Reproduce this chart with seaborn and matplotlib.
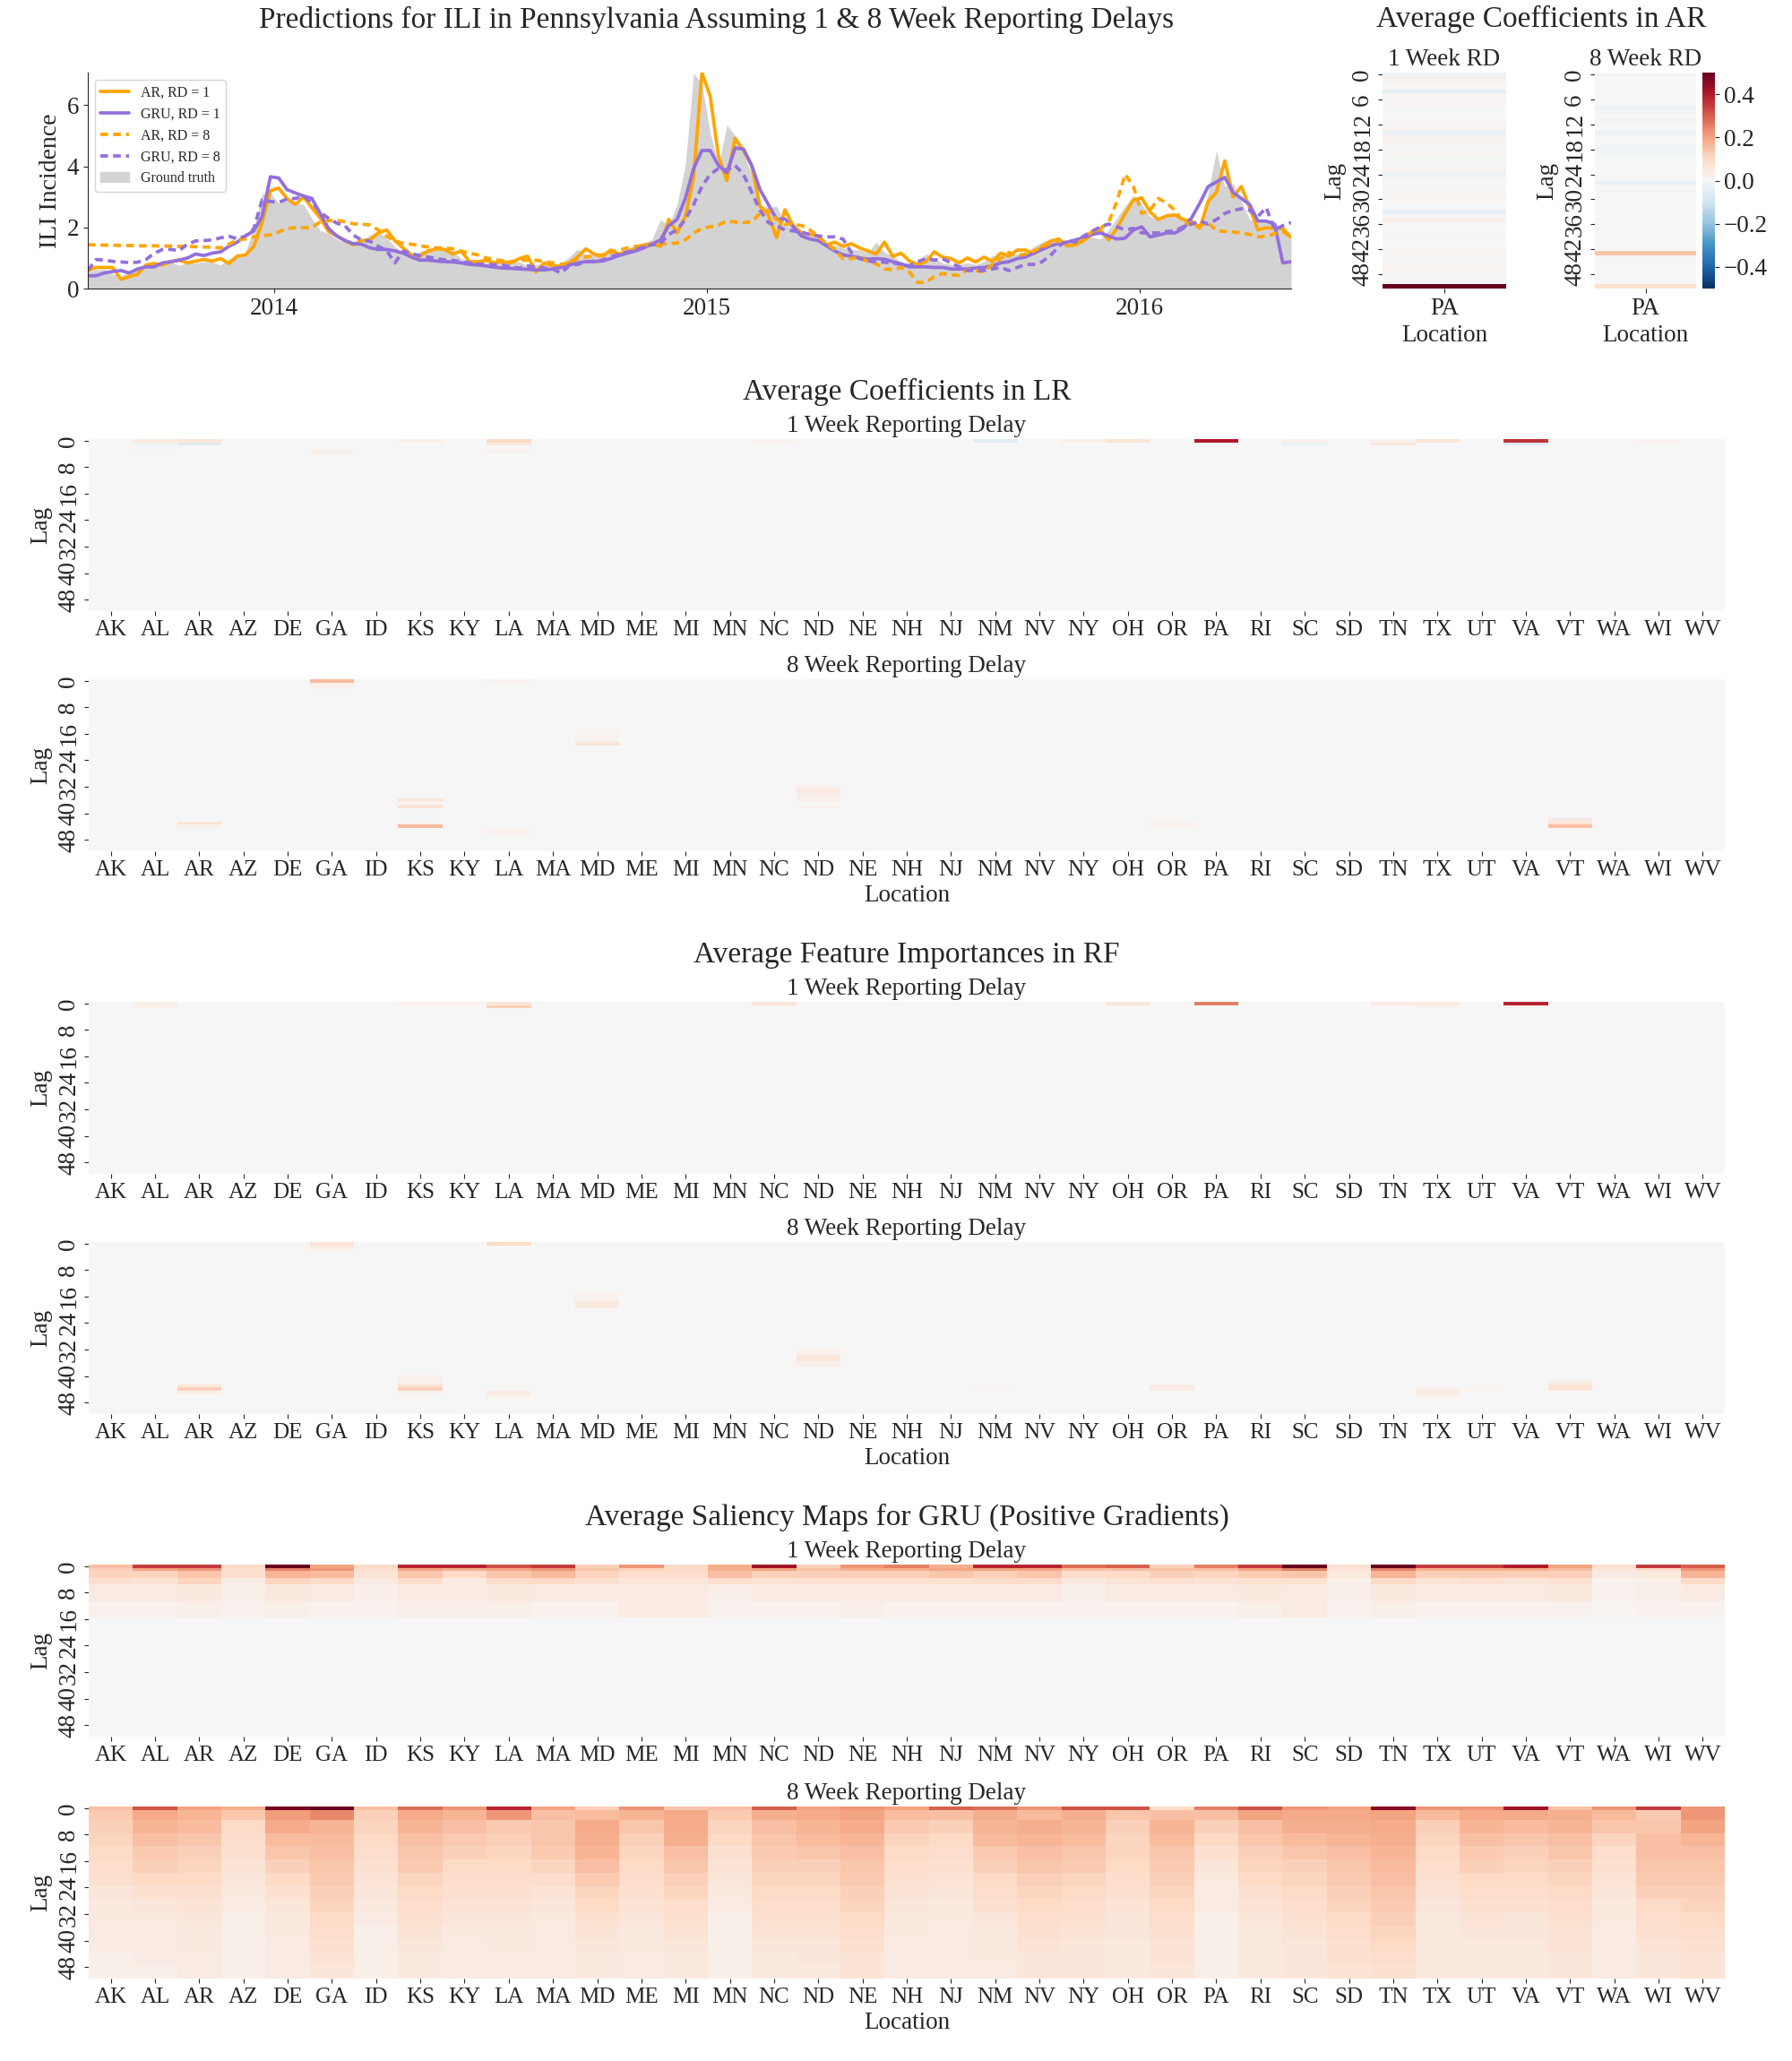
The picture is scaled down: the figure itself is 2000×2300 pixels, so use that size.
import numpy as np
import pandas as pd
import matplotlib
matplotlib.use('Agg')
import matplotlib.pyplot as plt
import matplotlib.dates as mdates
from matplotlib.lines import Line2D
from matplotlib.patches import Patch
import seaborn as sns

# weekly predictions for PA
WEEKS = pd.date_range('2013-07-28', periods=146, freq='7D')

GROUND_TRUTH = [
    0.55, 0.62, 0.62, 0.48, 0.40, 0.58, 0.72, 0.78, 0.78, 0.74,
    0.88, 0.76, 0.84, 0.84, 0.88, 0.88, 0.77, 0.98, 1.03, 1.20,
    1.95, 3.10, 3.12, 2.80, 2.88, 2.80, 2.75, 2.30, 1.90, 1.80,
    1.62, 1.52, 1.47, 1.58, 1.75, 1.90, 1.65, 1.38, 1.15, 1.02,
    1.22, 1.28, 1.30, 1.26, 1.22, 0.98, 0.87, 0.87, 0.84, 0.82,
    0.90, 0.88, 0.88, 0.74, 0.79, 0.79, 0.79, 0.79, 1.03, 1.28,
    1.13, 1.13, 1.18, 1.18, 1.18, 1.28, 1.38, 1.47, 1.62, 2.26,
    2.06, 2.75, 4.03, 7.05, 6.69, 5.11, 4.03, 5.36, 5.01, 4.42,
    3.74, 2.75, 2.65, 2.70, 2.11, 1.97, 1.77, 1.72, 1.67, 1.47,
    1.42, 1.33, 1.28, 1.26, 1.18, 1.52, 1.18, 1.08, 0.84, 0.84,
    0.88, 1.13, 0.98, 0.84, 0.79, 0.79, 0.84, 0.79, 0.88, 1.08,
    1.06, 1.18, 1.13, 1.18, 1.38, 1.52, 1.62, 1.57, 1.47, 1.57,
    1.67, 1.69, 1.62, 1.92, 2.31, 2.70, 3.05, 2.75, 2.36, 2.26,
    2.46, 2.46, 2.26, 2.16, 1.92, 3.15, 4.52, 3.34, 3.44, 2.85,
    2.26, 2.16, 2.26, 2.16, 1.97, 1.57]

AR_RD1 = [
    0.59, 0.69, 0.69, 0.69, 0.30, 0.39, 0.47, 0.77, 0.82, 0.77,
    0.88, 0.93, 0.84, 0.90, 0.95, 0.90, 0.98, 0.82, 1.06, 1.10,
    1.38, 2.16, 3.20, 3.29, 2.95, 2.75, 3.00, 2.65, 2.31, 1.87,
    1.72, 1.57, 1.43, 1.57, 1.59, 1.82, 1.92, 1.57, 1.33, 1.10,
    1.06, 1.23, 1.30, 1.28, 1.13, 1.23, 0.88, 0.88, 0.92, 0.84,
    0.88, 0.84, 0.98, 1.06, 0.54, 0.84, 0.74, 0.74, 0.84, 1.03,
    1.30, 1.13, 1.06, 1.26, 1.13, 1.20, 1.33, 1.43, 1.47, 1.38,
    2.26, 1.82, 2.36, 3.64, 7.07, 6.29, 4.33, 3.54, 4.92, 4.52,
    4.03, 2.70, 2.41, 1.67, 2.58, 2.06, 1.82, 1.77, 1.72, 1.43,
    1.52, 1.38, 1.47, 1.33, 1.23, 1.13, 1.52, 1.05, 1.16, 0.90,
    0.79, 0.88, 1.20, 1.03, 0.98, 0.84, 1.00, 0.87, 1.03, 0.88,
    1.16, 1.06, 1.26, 1.26, 1.13, 1.38, 1.55, 1.62, 1.40, 1.43,
    1.57, 1.77, 1.92, 1.59, 1.97, 2.46, 2.90, 2.97, 2.51, 2.26,
    2.38, 2.41, 2.26, 2.21, 1.97, 2.85, 3.15, 4.18, 3.00, 3.34,
    2.65, 1.92, 1.99, 1.97, 1.97, 1.67]

GRU_RD1 = [
    0.42, 0.42, 0.51, 0.56, 0.59, 0.51, 0.64, 0.71, 0.71, 0.84,
    0.88, 0.93, 1.00, 1.13, 1.08, 1.16, 1.20, 1.38, 1.52, 1.72,
    1.89, 2.36, 3.66, 3.62, 3.24, 3.13, 3.03, 2.95, 2.46, 1.97,
    1.72, 1.57, 1.47, 1.45, 1.33, 1.28, 1.28, 1.23, 1.16, 1.03,
    0.93, 0.93, 0.90, 0.88, 0.87, 0.84, 0.79, 0.77, 0.74, 0.70,
    0.67, 0.66, 0.64, 0.63, 0.61, 0.61, 0.64, 0.69, 0.77, 0.84,
    0.88, 0.88, 0.90, 0.98, 1.08, 1.16, 1.23, 1.33, 1.46, 1.59,
    2.06, 2.26, 2.95, 3.93, 4.52, 4.52, 4.03, 3.79, 4.60, 4.57,
    4.03, 3.24, 2.75, 2.26, 2.28, 2.02, 1.72, 1.62, 1.57, 1.40,
    1.23, 1.10, 1.06, 1.00, 0.96, 0.98, 0.96, 0.88, 0.81, 0.71,
    0.71, 0.71, 0.69, 0.69, 0.64, 0.64, 0.64, 0.67, 0.69, 0.74,
    0.84, 0.88, 0.98, 1.03, 1.16, 1.28, 1.40, 1.47, 1.52, 1.59,
    1.67, 1.77, 1.82, 1.72, 1.62, 1.65, 1.92, 2.02, 1.69, 1.75,
    1.82, 1.82, 1.97, 2.31, 2.80, 3.34, 3.49, 3.64, 3.15, 2.95,
    2.75, 2.21, 2.21, 2.11, 0.84, 0.88]

AR_RD8 = [
    1.43, 1.43, 1.42, 1.42, 1.41, 1.41, 1.40, 1.40, 1.40, 1.39,
    1.39, 1.38, 1.38, 1.37, 1.36, 1.35, 1.33, 1.45, 1.60, 1.62,
    1.69, 1.72, 1.76, 1.85, 1.97, 1.99, 1.99, 2.00, 2.18, 2.22,
    2.24, 2.18, 2.12, 2.11, 2.08, 1.92, 1.72, 1.55, 1.48, 1.45,
    1.40, 1.36, 1.33, 1.33, 1.30, 1.22, 1.16, 1.10, 1.00, 0.95,
    0.91, 0.88, 0.93, 0.93, 0.93, 0.88, 0.84, 0.79, 0.84, 0.98,
    1.03, 1.06, 1.10, 1.18, 1.26, 1.33, 1.38, 1.40, 1.43, 1.47,
    1.47, 1.49, 1.59, 1.82, 1.97, 2.02, 2.08, 2.21, 2.18, 2.16,
    2.18, 2.46, 2.56, 2.26, 2.11, 2.11, 2.06, 1.92, 1.72, 1.47,
    1.28, 0.98, 0.98, 1.03, 0.88, 0.81, 0.64, 0.62, 0.69, 0.54,
    0.20, 0.20, 0.39, 0.49, 0.44, 0.44, 0.61, 0.59, 0.54, 0.79,
    0.98, 1.18, 1.08, 1.13, 1.23, 1.36, 1.47, 1.57, 1.40, 1.43,
    1.62, 1.87, 1.97, 2.16, 2.85, 3.74, 3.34, 2.46, 2.56, 2.95,
    2.80, 2.56, 2.16, 2.11, 2.06, 2.16, 1.89, 1.87, 1.85, 1.82,
    1.77, 1.69, 1.72, 1.79, 1.87, 1.67]

GRU_RD8 = [
    0.59, 0.95, 0.93, 0.89, 0.87, 0.85, 0.86, 0.95, 1.15, 1.28,
    1.28, 1.24, 1.45, 1.56, 1.57, 1.59, 1.66, 1.71, 1.63, 1.72,
    1.95, 2.90, 2.85, 2.82, 2.93, 2.95, 3.02, 2.82, 2.50, 2.30,
    2.14, 2.05, 1.75, 1.58, 1.55, 1.38, 1.25, 0.84, 1.22, 1.15,
    1.07, 1.03, 0.98, 0.94, 0.92, 0.88, 0.84, 0.80, 0.79, 0.78,
    0.77, 0.71, 0.67, 0.74, 0.71, 0.67, 0.64, 0.51, 0.74, 0.79,
    0.87, 0.90, 0.93, 1.03, 1.13, 1.20, 1.26, 1.38, 1.43, 1.47,
    1.77, 1.92, 2.26, 2.75, 3.34, 3.74, 3.93, 3.88, 4.03, 3.74,
    3.15, 2.56, 2.16, 2.06, 1.92, 1.89, 1.85, 1.77, 1.72, 1.69,
    1.69, 1.62, 1.18, 0.98, 0.90, 0.88, 0.86, 0.84, 0.79, 0.74,
    0.88, 0.98, 0.93, 0.98, 0.84, 0.71, 0.59, 0.59, 0.59, 0.64,
    0.69, 0.59, 0.69, 0.79, 0.79, 0.88, 1.08, 1.38, 1.57, 1.52,
    1.72, 1.87, 2.02, 2.11, 2.02, 1.92, 1.97, 1.82, 1.82, 1.82,
    1.87, 1.89, 2.02, 2.11, 2.21, 2.11, 2.26, 2.46, 2.56, 2.61,
    2.56, 2.36, 2.65, 1.92, 2.06, 2.16]

# heatmap axes
LOCATIONS = ['AK', 'AL', 'AR', 'AZ', 'DE', 'GA', 'ID', 'KS', 'KY', 'LA', 'MA', 'MD', 'ME',
             'MI', 'MN', 'NC', 'ND', 'NE', 'NH', 'NJ', 'NM', 'NV', 'NY', 'OH', 'OR', 'PA',
             'RI', 'SC', 'SD', 'TN', 'TX', 'UT', 'VA', 'VT', 'WA', 'WI', 'WV']
LAGS = list(range(52))

# AR coefficients for PA, lag 0..51
AR_COEF_RD1 = [
    -0.02, 0.02, 0.015, 0.0, -0.05, 0.01, 0.005, 0.01, 0.0, -0.005,
    0.0, 0.005, 0.0, 0.015, -0.04, 0.02, 0.015, 0.0, -0.01, 0.01,
    0.0, -0.01, 0.005, 0.015, -0.03, 0.01, -0.005, 0.0, -0.01, 0.005,
    0.01, 0.0, -0.005, -0.04, 0.0, 0.025, 0.0, -0.005, 0.0, 0.005,
    0.0, 0.0, 0.01, 0.005, -0.01, 0.0, 0.01, 0.015, -0.01, 0.005,
    0.0, 0.50]
AR_COEF_RD8 = [
    0.0, 0.0, 0.0, 0.0, 0.0, 0.0, 0.0, 0.0, -0.03, -0.015,
    0.0, -0.02, 0.0, -0.005, -0.035, 0.0, 0.0, -0.015, -0.02, -0.015,
    0.0, 0.0, 0.0, 0.0, 0.0, 0.0, -0.04, 0.0, 0.0, 0.0,
    0.0, 0.0, 0.0, 0.0, 0.0, 0.0, 0.0, 0.0, 0.0, 0.0,
    0.0, 0.0, 0.0, 0.14, 0.01, 0.0, 0.0, 0.0, 0.0, 0.0,
    0.0, 0.08]

# LR / RF: only non-zero cells (location, lag, value)
LR_RD1 = [('AL', 0, 0.05), ('AL', 1, -0.02), ('AL', 2, -0.01), ('AL', 3, -0.01),
          ('AR', 0, 0.06), ('AR', 1, -0.06), ('GA', 3, 0.02), ('GA', 4, 0.02),
          ('KS', 0, 0.03), ('LA', 0, 0.10), ('LA', 1, 0.06), ('LA', 3, 0.02),
          ('NC', 0, 0.02), ('NM', 0, -0.06), ('NY', 0, 0.03), ('OH', 0, 0.07),
          ('PA', 0, 0.40), ('PA', 1, -0.02), ('SC', 0, 0.03), ('SC', 1, -0.03),
          ('TN', 0, 0.02), ('TN', 1, 0.06), ('TX', 0, 0.06), ('VA', 0, 0.36),
          ('VA', 1, -0.06), ('WI', 0, 0.02)]
LR_RD8 = [('GA', 0, 0.16), ('GA', 1, 0.03), ('GA', 2, 0.02), ('LA', 0, 0.02),
          ('MD', 15, 0.01), ('MD', 16, 0.015), ('MD', 17, 0.015), ('MD', 18, 0.02), ('MD', 19, 0.07),
          ('ND', 32, 0.02), ('ND', 33, 0.05), ('ND', 34, 0.04), ('ND', 35, 0.03), ('ND', 36, 0.02),
          ('ND', 38, 0.02), ('KS', 36, 0.06), ('KS', 38, 0.07), ('KS', 43, 0.02), ('KS', 44, 0.16),
          ('AR', 43, 0.07), ('AR', 44, 0.03), ('LA', 45, 0.02), ('LA', 46, 0.02),
          ('OR', 43, 0.02), ('OR', 44, 0.02), ('VT', 42, 0.04), ('VT', 43, 0.07), ('VT', 44, 0.15)]
RF_RD1 = [('AL', 0, 0.03), ('AL', 1, 0.03), ('LA', 0, 0.06), ('LA', 1, 0.12), ('NC', 0, 0.07),
          ('OH', 0, 0.06), ('PA', 0, 0.25), ('TN', 0, 0.04), ('TX', 0, 0.04), ('TX', 1, 0.02),
          ('VA', 0, 0.38), ('VA', 1, 0.02), ('KS', 0, 0.02), ('KY', 0, 0.02)]
RF_RD8 = [('GA', 0, 0.07), ('GA', 1, 0.04), ('GA', 2, 0.02), ('LA', 0, 0.10),
          ('MD', 15, 0.02), ('MD', 16, 0.02), ('MD', 17, 0.02), ('MD', 18, 0.05), ('MD', 19, 0.05),
          ('ND', 32, 0.02), ('ND', 33, 0.02), ('ND', 34, 0.06), ('ND', 35, 0.06), ('ND', 36, 0.03),
          ('ND', 37, 0.03), ('AR', 43, 0.06), ('AR', 44, 0.12), ('AR', 45, 0.03),
          ('KS', 40, 0.02), ('KS', 41, 0.02), ('KS', 42, 0.03), ('KS', 43, 0.08), ('KS', 44, 0.12),
          ('KS', 45, 0.02), ('LA', 45, 0.04), ('LA', 46, 0.03), ('NM', 44, 0.01),
          ('OR', 43, 0.04), ('OR', 44, 0.04), ('TX', 44, 0.03), ('TX', 45, 0.04), ('TX', 46, 0.02),
          ('UT', 44, 0.015), ('VT', 42, 0.04), ('VT', 43, 0.07), ('VT', 44, 0.07)]

# GRU saliency, 1 week delay: one value per location for each lag group
GRU1_LAG0 = [0.15, 0.35, 0.35, 0.10, 0.50, 0.20, 0.10, 0.38, 0.38, 0.32, 0.35, 0.12, 0.22,
             0.10, 0.18, 0.42, 0.12, 0.22, 0.25, 0.18, 0.38, 0.38, 0.28, 0.30, 0.12, 0.25,
             0.35, 0.50, 0.08, 0.50, 0.35, 0.35, 0.40, 0.20, 0.08, 0.35, 0.30]
GRU1_LAG1 = [0.12, 0.20, 0.22, 0.08, 0.25, 0.22, 0.08, 0.20, 0.18, 0.20, 0.22, 0.14, 0.12,
             0.10, 0.18, 0.20, 0.15, 0.18, 0.18, 0.20, 0.20, 0.20, 0.15, 0.15, 0.15, 0.15,
             0.20, 0.25, 0.06, 0.25, 0.18, 0.18, 0.18, 0.15, 0.06, 0.10, 0.22]
GRU1_LAG2_3 = [0.11, 0.11, 0.14, 0.08, 0.17, 0.16, 0.07, 0.14, 0.10, 0.14, 0.16, 0.11, 0.09,
               0.09, 0.15, 0.12, 0.12, 0.12, 0.12, 0.14, 0.12, 0.14, 0.09, 0.10, 0.12, 0.11,
               0.13, 0.14, 0.05, 0.17, 0.12, 0.12, 0.12, 0.12, 0.04, 0.05, 0.17]
GRU1_LAG4_5 = [0.08, 0.07, 0.11, 0.04, 0.11, 0.10, 0.04, 0.09, 0.04, 0.09, 0.10, 0.08, 0.06,
               0.06, 0.09, 0.07, 0.08, 0.08, 0.08, 0.08, 0.09, 0.09, 0.05, 0.07, 0.08, 0.07,
               0.08, 0.08, 0.03, 0.10, 0.07, 0.08, 0.06, 0.08, 0.02, 0.03, 0.10]
GRU1_LAG6_10 = [0.04, 0.04, 0.05, 0.03, 0.05, 0.04, 0.03, 0.04, 0.04, 0.05, 0.04, 0.04, 0.04,
                0.04, 0.03, 0.04, 0.04, 0.04, 0.04, 0.04, 0.04, 0.04, 0.03, 0.04, 0.04, 0.04,
                0.05, 0.04, 0.03, 0.05, 0.04, 0.04, 0.04, 0.05, 0.02, 0.03, 0.04]
GRU1_LAG11_15 = [0.02, 0.02, 0.03, 0.02, 0.03, 0.02, 0.02, 0.03, 0.03, 0.03, 0.02, 0.02, 0.04,
                 0.04, 0.02, 0.02, 0.02, 0.03, 0.02, 0.02, 0.02, 0.02, 0.02, 0.02, 0.02, 0.02,
                 0.03, 0.04, 0.02, 0.03, 0.02, 0.02, 0.02, 0.02, 0.01, 0.02, 0.02]

# GRU saliency, 8 week delay: lag 0, then 13 groups of 4 lags (lags 1-3 share the first group)
GRU8_LAG0 = [0.15, 0.32, 0.20, 0.18, 0.48, 0.50, 0.15, 0.28, 0.22, 0.38, 0.20, 0.12, 0.22,
             0.14, 0.15, 0.30, 0.20, 0.22, 0.20, 0.30, 0.28, 0.22, 0.32, 0.32, 0.10, 0.25,
             0.32, 0.22, 0.20, 0.45, 0.22, 0.22, 0.42, 0.15, 0.22, 0.35, 0.22]
GRU8_GROUPS = [
    [0.13, 0.12, 0.11, 0.10, 0.09, 0.08, 0.06, 0.05, 0.05, 0.04, 0.04, 0.03, 0.03],  # AK
    [0.19, 0.17, 0.15, 0.13, 0.12, 0.10, 0.08, 0.06, 0.05, 0.04, 0.04, 0.04, 0.03],  # AL
    [0.17, 0.16, 0.14, 0.12, 0.11, 0.10, 0.08, 0.07, 0.06, 0.05, 0.05, 0.04, 0.04],  # AR
    [0.14, 0.10, 0.09, 0.08, 0.07, 0.06, 0.05, 0.04, 0.03, 0.03, 0.03, 0.03, 0.03],  # AZ
    [0.21, 0.19, 0.16, 0.14, 0.12, 0.10, 0.08, 0.06, 0.05, 0.05, 0.04, 0.04, 0.04],  # DE
    [0.24, 0.17, 0.16, 0.15, 0.14, 0.13, 0.12, 0.11, 0.10, 0.09, 0.08, 0.07, 0.06],  # GA
    [0.12, 0.11, 0.10, 0.09, 0.08, 0.07, 0.06, 0.05, 0.04, 0.03, 0.03, 0.03, 0.03],  # ID
    [0.19, 0.17, 0.15, 0.14, 0.13, 0.11, 0.10, 0.09, 0.08, 0.07, 0.06, 0.05, 0.05],  # KS
    [0.17, 0.15, 0.13, 0.12, 0.10, 0.09, 0.08, 0.07, 0.06, 0.05, 0.04, 0.04, 0.04],  # KY
    [0.22, 0.13, 0.12, 0.11, 0.10, 0.09, 0.08, 0.07, 0.06, 0.05, 0.05, 0.04, 0.04],  # LA
    [0.15, 0.14, 0.14, 0.13, 0.11, 0.09, 0.07, 0.06, 0.05, 0.04, 0.04, 0.04, 0.04],  # MA
    [0.16, 0.19, 0.18, 0.17, 0.15, 0.13, 0.11, 0.10, 0.08, 0.07, 0.06, 0.05, 0.05],  # MD
    [0.17, 0.14, 0.12, 0.11, 0.10, 0.09, 0.08, 0.07, 0.06, 0.05, 0.05, 0.04, 0.04],  # ME
    [0.19, 0.19, 0.18, 0.15, 0.14, 0.12, 0.11, 0.09, 0.08, 0.07, 0.06, 0.05, 0.05],  # MI
    [0.13, 0.11, 0.10, 0.08, 0.07, 0.06, 0.05, 0.04, 0.03, 0.03, 0.03, 0.03, 0.03],  # MN
    [0.18, 0.15, 0.14, 0.13, 0.12, 0.11, 0.10, 0.09, 0.08, 0.07, 0.06, 0.05, 0.05],  # NC
    [0.19, 0.17, 0.16, 0.14, 0.12, 0.11, 0.10, 0.09, 0.08, 0.07, 0.06, 0.06, 0.05],  # ND
    [0.20, 0.19, 0.17, 0.15, 0.14, 0.13, 0.12, 0.11, 0.10, 0.09, 0.08, 0.07, 0.07],  # NE
    [0.16, 0.13, 0.11, 0.10, 0.09, 0.08, 0.07, 0.06, 0.05, 0.05, 0.04, 0.04, 0.04],  # NH
    [0.15, 0.12, 0.10, 0.09, 0.08, 0.07, 0.06, 0.05, 0.05, 0.04, 0.04, 0.04, 0.04],  # NJ
    [0.18, 0.17, 0.16, 0.13, 0.12, 0.10, 0.09, 0.08, 0.06, 0.05, 0.05, 0.05, 0.04],  # NM
    [0.16, 0.18, 0.17, 0.15, 0.14, 0.12, 0.11, 0.10, 0.09, 0.08, 0.07, 0.06, 0.06],  # NV
    [0.18, 0.17, 0.16, 0.14, 0.13, 0.11, 0.10, 0.09, 0.08, 0.07, 0.06, 0.06, 0.06],  # NY
    [0.14, 0.12, 0.11, 0.11, 0.10, 0.09, 0.08, 0.07, 0.06, 0.06, 0.05, 0.05, 0.05],  # OH
    [0.15, 0.17, 0.16, 0.14, 0.13, 0.12, 0.11, 0.10, 0.09, 0.08, 0.07, 0.07, 0.06],  # OR
    [0.15, 0.12, 0.10, 0.08, 0.06, 0.05, 0.04, 0.04, 0.03, 0.03, 0.03, 0.03, 0.03],  # PA
    [0.20, 0.15, 0.14, 0.12, 0.11, 0.10, 0.08, 0.07, 0.06, 0.05, 0.05, 0.05, 0.05],  # RI
    [0.19, 0.18, 0.16, 0.14, 0.12, 0.11, 0.10, 0.09, 0.08, 0.07, 0.06, 0.06, 0.06],  # SC
    [0.19, 0.18, 0.17, 0.15, 0.14, 0.13, 0.12, 0.11, 0.10, 0.09, 0.08, 0.08, 0.07],  # SD
    [0.20, 0.19, 0.18, 0.17, 0.16, 0.15, 0.14, 0.13, 0.12, 0.11, 0.10, 0.09, 0.08],  # TN
    [0.16, 0.12, 0.11, 0.10, 0.09, 0.08, 0.07, 0.06, 0.05, 0.05, 0.05, 0.05, 0.05],  # TX
    [0.19, 0.17, 0.15, 0.13, 0.12, 0.10, 0.09, 0.08, 0.07, 0.06, 0.05, 0.05, 0.05],  # UT
    [0.19, 0.16, 0.14, 0.12, 0.11, 0.10, 0.09, 0.08, 0.06, 0.06, 0.05, 0.05, 0.05],  # VA
    [0.18, 0.17, 0.15, 0.14, 0.12, 0.11, 0.10, 0.09, 0.08, 0.07, 0.07, 0.06, 0.06],  # VT
    [0.16, 0.14, 0.11, 0.09, 0.08, 0.07, 0.06, 0.05, 0.05, 0.04, 0.04, 0.04, 0.04],  # WA
    [0.13, 0.14, 0.15, 0.15, 0.14, 0.13, 0.12, 0.10, 0.09, 0.08, 0.07, 0.06, 0.06],  # WI
    [0.22, 0.20, 0.17, 0.15, 0.14, 0.13, 0.12, 0.11, 0.10, 0.09, 0.08, 0.07, 0.07],  # WV
]

sns.set_style('ticks')
plt.rcParams['font.family'] = ['Liberation Serif', 'DejaVu Serif']
plt.rcParams['font.size'] = 19.5
plt.rcParams['axes.unicode_minus'] = True

W, H = 2000, 2300
fig = plt.figure(figsize=(20, 23), dpi=100)

HEAT_LEFT, HEAT_WIDTH = 99, 1826
HEAT_MID = HEAT_LEFT + HEAT_WIDTH / 2


def box(left, top, width, height):
    # pixel box -> figure fraction
    return [left / W, 1 - (top + height) / H, width / W, height / H]


def sparse_frame(entries):
    mat = np.zeros((len(LAGS), len(LOCATIONS)))
    for loc, lag, val in entries:
        mat[lag, LOCATIONS.index(loc)] = val
    return pd.DataFrame(mat, index=LAGS, columns=LOCATIONS)


def gru1_frame():
    mat = np.zeros((len(LAGS), len(LOCATIONS)))
    groups = [(0, 1, GRU1_LAG0), (1, 2, GRU1_LAG1), (2, 4, GRU1_LAG2_3),
              (4, 6, GRU1_LAG4_5), (6, 11, GRU1_LAG6_10), (11, 16, GRU1_LAG11_15)]
    for start, stop, vals in groups:
        mat[start:stop, :] = vals
    return pd.DataFrame(mat, index=LAGS, columns=LOCATIONS)


def gru8_frame():
    mat = np.repeat(np.array(GRU8_GROUPS).T, 4, axis=0)
    mat[0, :] = GRU8_LAG0
    return pd.DataFrame(mat, index=LAGS, columns=LOCATIONS)


def draw_heat(ax, df, title, ystep, xlabel=None, cbar_ax=None, tick_size=18):
    sns.heatmap(df, ax=ax, cmap='RdBu_r', vmin=-0.5, vmax=0.5,
                cbar=cbar_ax is not None, cbar_ax=cbar_ax,
                xticklabels=True, yticklabels=ystep)
    plt.setp(ax.get_yticklabels(), rotation=90, va='center', fontsize=19.5)
    plt.setp(ax.get_xticklabels(), rotation=0, fontsize=tick_size)
    ax.set_title(title, fontsize=19.5)
    ax.set_ylabel('Lag', fontsize=19.5)
    ax.set_xlabel(xlabel if xlabel else '', fontsize=19.5)


def heat_row(top):
    return fig.add_axes(box(HEAT_LEFT, top, HEAT_WIDTH, 192))


# --- line chart ---
ax = fig.add_axes(box(98, 81, 1343, 241))
ax.fill_between(WEEKS, 0, GROUND_TRUTH, color='lightgray', lw=0)
dash = (2.3, 1.5)
sns.lineplot(x=WEEKS, y=AR_RD1, ax=ax, color='orange', lw=2.7)
sns.lineplot(x=WEEKS, y=GRU_RD1, ax=ax, color='mediumpurple', lw=2.7)
sns.lineplot(x=WEEKS, y=AR_RD8, ax=ax, color='orange', lw=2.7, dashes=dash)
sns.lineplot(x=WEEKS, y=GRU_RD8, ax=ax, color='mediumpurple', lw=2.7, dashes=dash)
handles = [Line2D([], [], color='orange', lw=2.7),
           Line2D([], [], color='mediumpurple', lw=2.7),
           Line2D([], [], color='orange', lw=2.7, dashes=dash),
           Line2D([], [], color='mediumpurple', lw=2.7, dashes=dash),
           Patch(color='lightgray')]
ax.legend(handles, ['AR, RD = 1', 'GRU, RD = 1', 'AR, RD = 8', 'GRU, RD = 8', 'Ground truth'],
          loc='upper left', fontsize=11.5)
ax.set_xlim(WEEKS[0], WEEKS[-1])
ax.set_ylim(0, 7.07)
ax.set_yticks([0, 2, 4, 6])
ax.xaxis.set_major_locator(mdates.YearLocator())
ax.xaxis.set_major_formatter(mdates.DateFormatter('%Y'))
ax.set_ylabel('ILI Incidence', fontsize=20)
ax.set_xlabel('')
sns.despine(ax=ax)
fig.text(800 / W, 1 - 22 / H, 'Predictions for ILI in Pennsylvania Assuming 1 & 8 Week Reporting Delays',
         ha='center', va='center', fontsize=24)

# --- AR heatmaps ---
fig.text(1720 / W, 1 - 21 / H, 'Average Coefficients in AR', ha='center', va='center', fontsize=24)
ar1 = pd.DataFrame({'PA': AR_COEF_RD1}, index=LAGS)
ar8 = pd.DataFrame({'PA': AR_COEF_RD8}, index=LAGS)
ax_ar1 = fig.add_axes(box(1543, 81, 138, 241))
draw_heat(ax_ar1, ar1, '1 Week RD', 6, 'Location', tick_size=19.5)
ax_ar8 = fig.add_axes(box(1780, 81, 113, 241))
cax = fig.add_axes(box(1900, 81, 14, 241))
draw_heat(ax_ar8, ar8, '8 Week RD', 6, 'Location', cbar_ax=cax, tick_size=19.5)
cax.set_yticks([-0.4, -0.2, 0.0, 0.2, 0.4])
cax.set_yticklabels(['\u22120.4', '\u22120.2', '0.0', '0.2', '0.4'])
cax.tick_params(labelsize=19.5)

# --- LR ---
fig.text(HEAT_MID / W, 1 - 437 / H, 'Average Coefficients in LR', ha='center', va='center', fontsize=24)
draw_heat(heat_row(490), sparse_frame(LR_RD1), '1 Week Reporting Delay', 8)
draw_heat(heat_row(758), sparse_frame(LR_RD8), '8 Week Reporting Delay', 8, 'Location')

# --- RF ---
fig.text(HEAT_MID / W, 1 - 1066 / H, 'Average Feature Importances in RF', ha='center', va='center', fontsize=24)
draw_heat(heat_row(1118), sparse_frame(RF_RD1), '1 Week Reporting Delay', 8)
draw_heat(heat_row(1386), sparse_frame(RF_RD8), '8 Week Reporting Delay', 8, 'Location')

# --- GRU ---
fig.text(HEAT_MID / W, 1 - 1693 / H, 'Average Saliency Maps for GRU (Positive Gradients)',
         ha='center', va='center', fontsize=24)
draw_heat(heat_row(1746), gru1_frame(), '1 Week Reporting Delay', 8)
draw_heat(heat_row(2016), gru8_frame(), '8 Week Reporting Delay', 8, 'Location')

fig.savefig('out.png', dpi=100)
